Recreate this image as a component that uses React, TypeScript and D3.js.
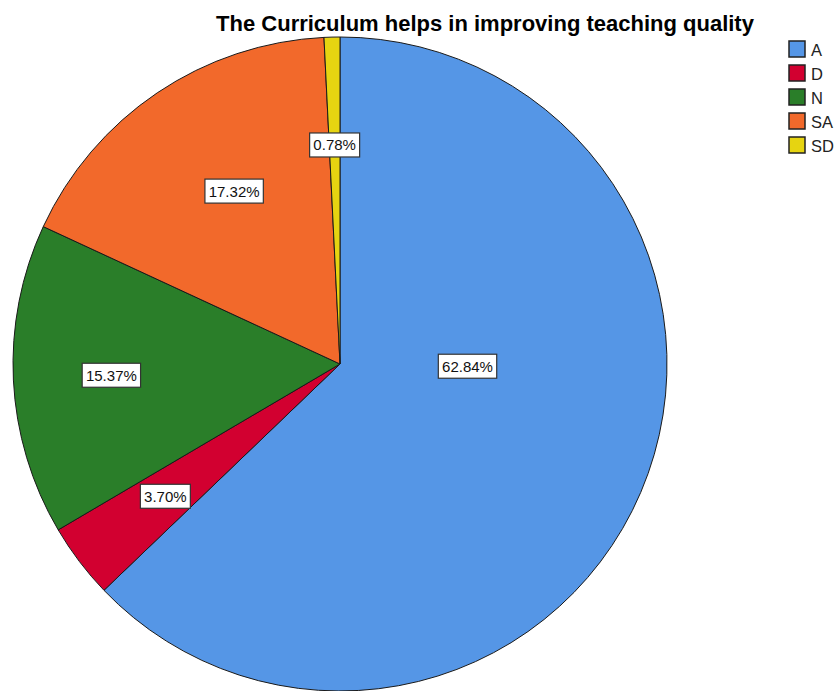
import React from "react";
import * as d3 from "d3";

const categories = ["A", "D", "N", "SA", "SD"];
const values = [62.84, 3.7, 15.37, 17.32, 0.78];
const colors = ["#5596E6", "#D20030", "#2A7E29", "#F2692B", "#E6D411"];
const title = "The Curriculum helps in improving teaching quality";

const W = 839;
const H = 691;
const cx = 340;
const cy = 364;
const R = 327;
// label placement (radius fraction) per slice; angle override only for the big slice
const labelRadius = [0.39, 0.67, 0.7, 0.62, 0.67];

export default function App() {
  const pie = d3.pie<number>().sort(null).value((d) => d)(values);
  const arc = d3.arc<d3.PieArcDatum<number>>().innerRadius(0).outerRadius(R);

  const labelPos = (d: d3.PieArcDatum<number>, i: number) => {
    let ang = (d.startAngle + d.endAngle) / 2;
    if (i === 0) ang = (91 * Math.PI) / 180;
    if (i === 3) ang += (2.5 * Math.PI) / 180;
    const rf = labelRadius[i];
    return [Math.sin(ang) * R * rf, -Math.cos(ang) * R * rf];
  };

  return (
    <svg
      width={W}
      height={H}
      style={{ position: "absolute", left: 0, top: 0, background: "#fff" }}
      fontFamily="'Liberation Sans', Arial, sans-serif"
    >
      <text x={485} y={31} textAnchor="middle" fontSize={22} fontWeight="bold" fill="#000">
        {title}
      </text>
      <g transform={`translate(${cx},${cy})`}>
        {pie.map((d, i) => (
          <path key={i} d={arc(d) || ""} fill={colors[i]} stroke="#1a1a1a" strokeWidth={1} />
        ))}
        {pie.map((d, i) => {
          const [x, y] = labelPos(d, i);
          const txt = values[i].toFixed(2) + "%";
          const w = txt.length * 8.4 + 8;
          return (
            <g key={"l" + i} transform={`translate(${x},${y})`}>
              <rect x={-w / 2} y={-12} width={w} height={24} fill="#fff" stroke="#333" strokeWidth={1.2} />
              <text x={0} y={5.5} textAnchor="middle" fontSize={15} fill="#111">
                {txt}
              </text>
            </g>
          );
        })}
      </g>
      <g>
        {categories.map((c, i) => (
          <g key={c} transform={`translate(789,${41 + i * 24})`}>
            <rect x={0} y={0} width={16} height={16} fill={colors[i]} stroke="#222" strokeWidth={1.5} />
            <text x={22} y={14.5} fontSize={16.5} fill="#222">
              {c}
            </text>
          </g>
        ))}
      </g>
    </svg>
  );
}
